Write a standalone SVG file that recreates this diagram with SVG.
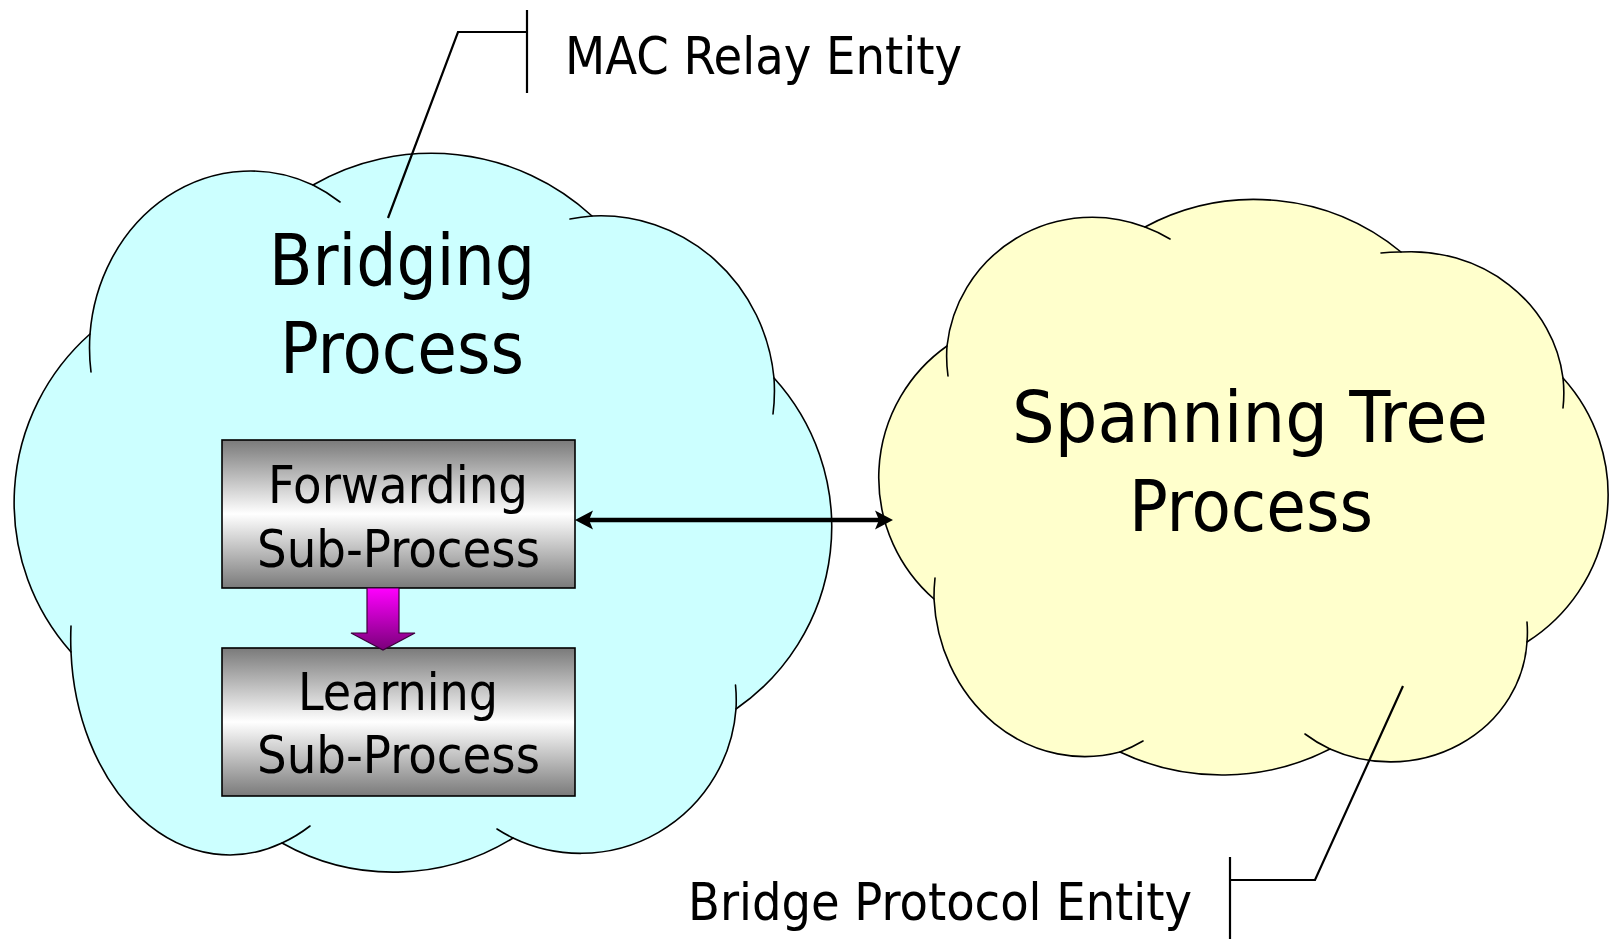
<svg xmlns="http://www.w3.org/2000/svg" width="1610" height="939" viewBox="0 0 1610 939">
<style>
.outline{stroke:#000;stroke-width:1.6;stroke-linejoin:round}
.inner{fill:none;stroke:#000;stroke-width:1.6;stroke-linecap:round}
.callout{fill:none;stroke:#000;stroke-width:2.2}
.box{fill:url(#boxGrad);stroke:#000;stroke-width:1.6}
.t{font-family:"DejaVu Sans Condensed","DejaVu Sans",sans-serif;font-stretch:condensed;fill:#000}
.title{font-size:72px;text-anchor:middle}
.sub{font-size:52px;text-anchor:middle}
.lab{font-size:52px}
</style>
<defs>
<linearGradient id="boxGrad" x1="0" y1="0" x2="0" y2="1">
<stop offset="0" stop-color="#7a7a7a"/>
<stop offset="0.5" stop-color="#ffffff"/>
<stop offset="1" stop-color="#7a7a7a"/>
</linearGradient>
<linearGradient id="purpleGrad" x1="0" y1="0" x2="0" y2="1">
<stop offset="0" stop-color="#ff00ff"/>
<stop offset="1" stop-color="#7a007a"/>
</linearGradient>
</defs>
<rect width="1610" height="939" fill="#fff"/>

<g id="bridging-process">
<path class="outline" fill="#CCFFFF" d="M90,334 A161 178 0 0 1 313,185 A237 237 0 0 1 592,216 A174 180 0 0 1 774,378 A221 221 0 0 1 736,709 A156 156 0 0 1 513,838 A227 227 0 0 1 282,843 A159 215 0 0 1 71,652 A225 225 0 0 1 90,334 Z"/>
<path class="inner" d="M91,372 A161 178 0 0 1 90,334 M313,185 A161 178 0 0 1 340,202 M570,219 A174 180 0 0 1 592,216 M774,378 A174 180 0 0 1 773,414 M735.5,685 A156 156 0 0 1 736,709 M513,838 A156 156 0 0 1 497,829 M310,826 A159 215 0 0 1 282,843 M71,652 A159 215 0 0 1 71,626"/>
<text class="t title" x="402" y="285" textLength="266" lengthAdjust="spacingAndGlyphs">Bridging</text>
<text class="t title" x="402" y="373" textLength="244" lengthAdjust="spacingAndGlyphs">Process</text>
</g>

<g id="spanning-tree-process">
<path class="outline" fill="#FFFFCC" d="M947,346 A146 144 0 0 1 1145,227 A231 231 0 0 1 1401,252 A153 143 0 0 1 1563,378 A174 174 0 0 1 1527,642 A137 127 0 0 1 1330,749 A237 237 0 0 1 1120,752 A151 166.5 0 0 1 934,599 A161 161 0 0 1 947,346 Z"/>
<path class="inner" d="M948,376 A146 144 0 0 1 947,346 M1145,227 A146 144 0 0 1 1170,239 M1381,253 A153 143 0 0 1 1401,252 M1563,378 A153 143 0 0 1 1563,408 M1527,622 A137 127 0 0 1 1527,642 M1330,749 A137 127 0 0 1 1305,734 M1143,741 A151 166.5 0 0 1 1120,752 M934,599 A151 166.5 0 0 1 935,578"/>
<text class="t title" x="1250" y="442" textLength="476" lengthAdjust="spacingAndGlyphs">Spanning Tree</text>
<text class="t title" x="1251" y="531" textLength="244" lengthAdjust="spacingAndGlyphs">Process</text>
</g>

<g id="forwarding-sub-process">
<rect class="box" x="222" y="440" width="353" height="148"/>
<text class="t sub" x="398" y="503" textLength="260" lengthAdjust="spacingAndGlyphs">Forwarding</text>
<text class="t sub" x="398.5" y="567" textLength="283" lengthAdjust="spacingAndGlyphs">Sub-Process</text>
</g>

<g id="learning-sub-process">
<rect class="box" x="222" y="648" width="353" height="148"/>
<text class="t sub" x="398" y="710" textLength="200" lengthAdjust="spacingAndGlyphs">Learning</text>
<text class="t sub" x="398.5" y="773" textLength="283" lengthAdjust="spacingAndGlyphs">Sub-Process</text>
</g>

<g id="mac-relay-entity-label">
<text class="t lab" x="565" y="74" textLength="397" lengthAdjust="spacingAndGlyphs">MAC Relay Entity</text>
</g>

<g id="bridge-protocol-entity-label">
<text class="t lab" x="688" y="920" textLength="504" lengthAdjust="spacingAndGlyphs">Bridge Protocol Entity</text>
</g>

<g id="connectors">
<polyline class="callout" points="527,10 527,93"/>
<polyline class="callout" points="527,32 458,32 388,218"/>
<polyline class="callout" points="1230,857 1230,939"/>
<polyline class="callout" points="1230,880 1315,880 1403,686"/>
<line x1="588" y1="520" x2="880" y2="520" stroke="#000" stroke-width="4.6"/>
<polygon points="575,520 593,510.5 589,520 593,529.5" fill="#000"/>
<polygon points="893,520 875,510.5 879,520 875,529.5" fill="#000"/>
<polygon points="367,588 399,588 399,633 415,633 383,650 351,633 367,633" fill="url(#purpleGrad)" stroke="#3a003a" stroke-width="1.2"/>
</g>
</svg>
